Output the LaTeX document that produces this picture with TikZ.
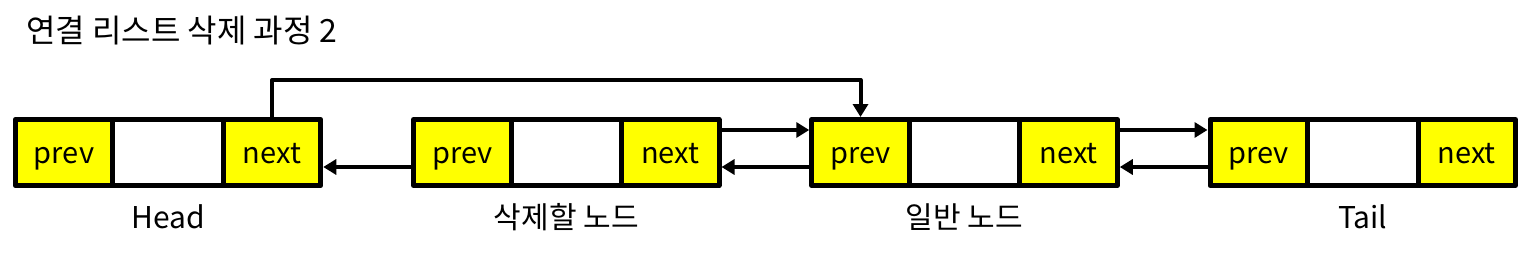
\documentclass[tikz,border=0pt]{standalone}
\usepackage{fontspec}
\setmainfont{Noto Sans CJK KR}
\usepackage{tikz}
\usetikzlibrary{arrows.meta,positioning}
\definecolor{cellyellow}{HTML}{FFFF00}
\definecolor{cellline}{HTML}{000000}
\tikzset{
every picture/.style={line cap=round,line join=round},
cell box/.style={
  draw=cellline,
  line width=5pt,
  minimum height=66pt,
  inner sep=0pt,
  outer sep=0pt,
  text height=27pt,
  text depth=6pt,
  font=\fontsize{29}{34}\selectfont
},
ptr box/.style={cell box, fill=cellyellow, minimum width=97.5pt},
data box/.style={cell box, fill=white, minimum width=110.5pt},
fig link/.style={
  draw=black,
  line width=4pt,
  -{Triangle[length=13pt,width=15pt]},
  shorten >=2.5pt
},
fig label/.style={font=\fontsize{30}{34}\selectfont, anchor=base},
fig title/.style={font=\fontsize{32}{36}\selectfont, anchor=base west, inner sep=0pt}
}
\begin{document}
\begin{tikzpicture}[x=1pt,y=-1pt]
\useasboundingbox (0,0) rectangle (1533,270);
\node[fig title] (title) at (26,43) {연결 리스트 삭제 과정 2};
\coordinate (over) at (0,80);
\coordinate (label line) at (0,228);
% Head
\node[ptr box] (h-prev) at (64,152.5) {prev};
\node[data box, right=0pt of h-prev] (h-data) {};
\node[ptr box, right=0pt of h-data] (h-next) {next};
% node to delete
\node[ptr box, right=92.75pt of h-next] (d-prev) {prev};
\node[data box, right=0pt of d-prev] (d-data) {};
\node[ptr box, right=0pt of d-data] (d-next) {next};
% ordinary node
\node[ptr box, right=92.75pt of d-next] (g-prev) {prev};
\node[data box, right=0pt of g-prev] (g-data) {};
\node[ptr box, right=0pt of g-data] (g-next) {next};
% Tail
\node[ptr box, right=92.75pt of g-next] (t-prev) {prev};
\node[data box, right=0pt of t-prev] (t-data) {};
\node[ptr box, right=0pt of t-data] (t-next) {next};
\node[fig label] (h-label) at (h-data |- label line) {Head};
\node[fig label] (d-label) at (d-data |- label line) {삭제할 노드};
\node[fig label] (g-label) at (g-data |- label line) {일반 노드};
\node[fig label] (t-label) at (t-data |- label line) {Tail};
% links
\draw[fig link] (h-next.north) -- (h-next.north |- over) -| (g-prev.north);
\draw[fig link] ([yshift=-14.5pt]d-prev.west) -- ([yshift=-14.5pt]h-next.east);
\draw[fig link] ([yshift=22.5pt]d-next.east) -- ([yshift=22.5pt]g-prev.west);
\draw[fig link] ([yshift=-14.5pt]g-prev.west) -- ([yshift=-14.5pt]d-next.east);
\draw[fig link] ([yshift=22.5pt]g-next.east) -- ([yshift=22.5pt]t-prev.west);
\draw[fig link] ([yshift=-14.5pt]t-prev.west) -- ([yshift=-14.5pt]g-next.east);
\end{tikzpicture}
\end{document}
